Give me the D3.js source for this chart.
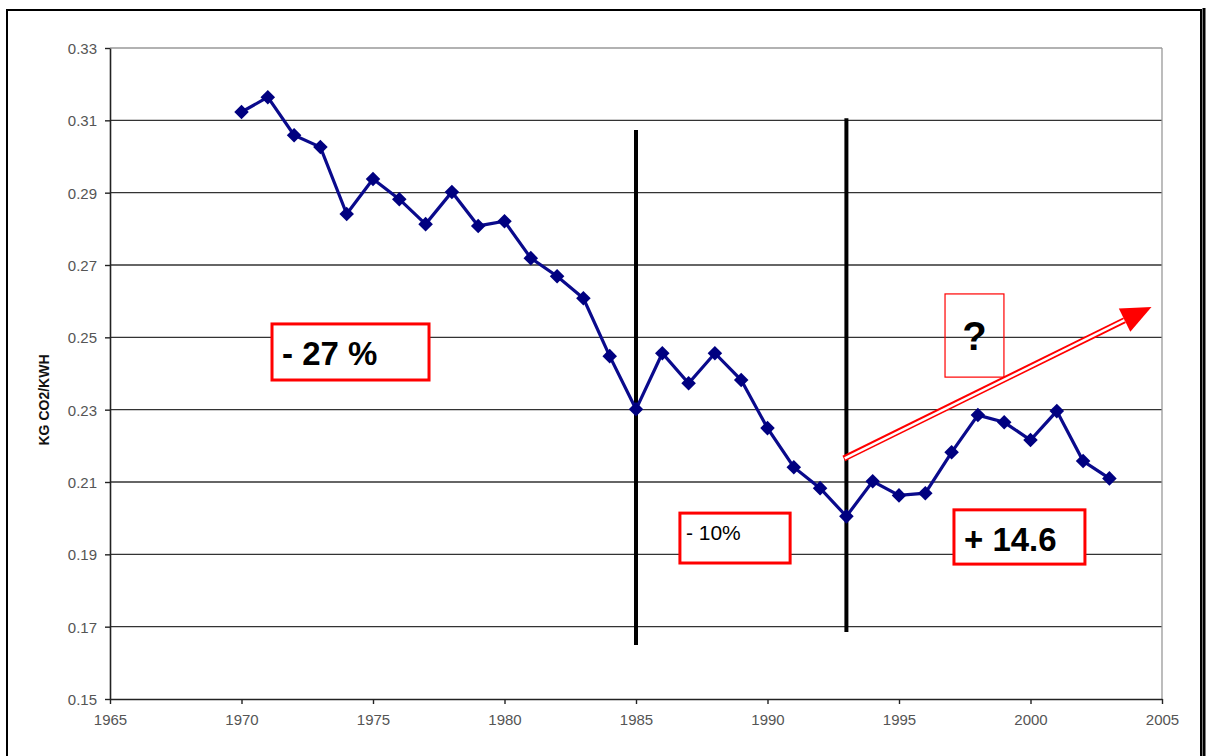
<!DOCTYPE html>
<html>
<head>
<meta charset="utf-8">
<script src="https://cdn.jsdelivr.net/npm/d3@7"></script>
<style>
  body { margin: 0; background: #fff; }
  text { font-family: Arial, "Liberation Sans", sans-serif; }
</style>
</head>
<body>
<div id="chart-area"></div>
<script>
// data
var years = [1970, 1971, 1972, 1973, 1974, 1975, 1976, 1977, 1978, 1979,
             1980, 1981, 1982, 1983, 1984, 1985, 1986, 1987, 1988, 1989,
             1990, 1991, 1992, 1993, 1994, 1995, 1996, 1997, 1998, 1999,
             2000, 2001, 2002, 2003];
var kgPerKwh = [0.3123, 0.3164, 0.3059, 0.3026, 0.2841, 0.2938, 0.2882, 0.2813, 0.2902, 0.2808,
                0.2821, 0.2719, 0.2669, 0.2608, 0.2448, 0.2301, 0.2456, 0.2373, 0.2456, 0.2382,
                0.2249, 0.2141, 0.2083, 0.2005, 0.2102, 0.2063, 0.2069, 0.2182, 0.2285, 0.2265,
                0.2216, 0.2296, 0.2158, 0.2110];
var xTicks = [1965, 1970, 1975, 1980, 1985, 1990, 1995, 2000, 2005];
var yTicks = [0.15, 0.17, 0.19, 0.21, 0.23, 0.25, 0.27, 0.29, 0.31, 0.33];
var breakYears = [1985, 1993];
var breakTop = [0.3073, 0.3106];
var breakBottom = [0.1649, 0.1685];
var labels = [
    { text: "- 27 %", x0: 1971.16, x1: 1977.13, y0: 0.2537, y1: 0.2382 },
    { text: "- 10%",  x0: 1986.67, x1: 1990.86, y0: 0.2014, y1: 0.1876 },
    { text: "+ 14.6", x0: 1997.09, x1: 2002.07, y0: 0.2023, y1: 0.1873 }
];

var W = 1207, H = 756;
var margin = { left: 110, right: 45, top: 48, bottom: 57 };
var width = W - margin.left - margin.right,
    height = H - margin.top - margin.bottom;

var svg = d3.select("#chart-area")
    .append("svg")
    .attr("width", W)
    .attr("height", H);

// outer frame
svg.append("path")
    .attr("d", "M7,760 V10 H1201 V760")
    .attr("fill", "none")
    .attr("stroke", "#000")
    .attr("stroke-width", 2);
svg.append("line")
    .attr("x1", 1204).attr("x2", 1204).attr("y1", 8).attr("y2", 760)
    .attr("stroke", "#000").attr("stroke-width", 3);

var g = svg.append("g")
    .attr("transform", "translate(" + margin.left + "," + margin.top + ")");

// Scales
var x = d3.scaleLinear().domain([1965, 2005]).range([0, width]);
var y = d3.scaleLinear().domain([0.15, 0.33]).range([height, 0]);

// grid lines
g.selectAll(".grid")
    .data(yTicks.slice(1))
    .enter().append("line")
    .attr("class", "grid")
    .attr("x1", 0).attr("x2", width)
    .attr("y1", function(d){ return y(d); })
    .attr("y2", function(d){ return y(d); })
    .attr("stroke", function(d){ return d === 0.33 ? "#999" : "#333"; })
    .attr("stroke-width", 1.3);
g.append("line")
    .attr("x1", width).attr("x2", width)
    .attr("y1", 0).attr("y2", height)
    .attr("stroke", "#999").attr("stroke-width", 1.3);

// X Axis
var xAxisCall = d3.axisBottom(x)
    .tickValues(xTicks)
    .tickSize(5)
    .tickSizeOuter(0)
    .tickFormat(d3.format("d"));
var xAxis = g.append("g")
    .attr("transform", "translate(0," + height + ")")
    .call(xAxisCall);

// Y Axis
var yAxisCall = d3.axisLeft(y)
    .tickValues(yTicks)
    .tickSize(5)
    .tickSizeOuter(0)
    .tickFormat(d3.format(".2f"));
var yAxis = g.append("g").call(yAxisCall);

[xAxis, yAxis].forEach(function(a){
    a.attr("font-size", 15);
    a.select(".domain").attr("stroke", "#222").attr("stroke-width", 1.6);
    a.selectAll(".tick line").attr("stroke", "#222").attr("stroke-width", 1.4);
    a.selectAll("text")
        .attr("font-size", 15)
        .attr("fill", "#555");
});
xAxis.selectAll("text").attr("y", 14).attr("dy", "0.8em");
yAxis.selectAll("text").attr("x", -13).attr("dy", "0.36em");

// axis label
g.append("text")
    .attr("transform", "rotate(-90)")
    .attr("x", -352)
    .attr("y", -61)
    .attr("text-anchor", "middle")
    .attr("font-size", 14)
    .attr("font-weight", "bold")
    .attr("fill", "#111")
    .text("KG CO2/KWH");

// vertical break lines
g.selectAll(".brk")
    .data(breakYears)
    .enter().append("line")
    .attr("class", "brk")
    .attr("x1", function(d){ return x(d); })
    .attr("x2", function(d){ return x(d); })
    .attr("y1", function(d, i){ return y(breakTop[i]); })
    .attr("y2", function(d, i){ return y(breakBottom[i]); })
    .attr("stroke", "#000")
    .attr("stroke-width", 4);

// series line
var line = d3.line()
    .x(function(d, i){ return x(years[i]); })
    .y(function(d){ return y(d); });
g.append("path")
    .datum(kgPerKwh)
    .attr("d", line)
    .attr("fill", "none")
    .attr("stroke", "#0a0a8c")
    .attr("stroke-width", 3.2);

g.selectAll(".pt")
    .data(kgPerKwh)
    .enter().append("path")
    .attr("class", "pt")
    .attr("d", d3.symbol().type(d3.symbolDiamond2).size(135))
    .attr("transform", function(d, i){
        return "translate(" + x(years[i]) + "," + y(d) + ")";
    })
    .attr("fill", "#000080");

// trend arrow (hollow double line)
var a0 = [1992.9, 0.2165], a1 = [2004.6, 0.2584];
var ax0 = x(a0[0]), ay0 = y(a0[1]), ax1 = x(a1[0]), ay1 = y(a1[1]);
var ang = Math.atan2(ay1 - ay0, ax1 - ax0);
var headLen = 30, headW = 13;
var bx = ax1 - headLen * Math.cos(ang), by = ay1 - headLen * Math.sin(ang);
g.append("line")
    .attr("x1", ax0).attr("y1", ay0).attr("x2", bx).attr("y2", by)
    .attr("stroke", "#f00").attr("stroke-width", 6);
g.append("line")
    .attr("x1", ax0 + 1).attr("y1", ay0).attr("x2", bx).attr("y2", by)
    .attr("stroke", "#fff").attr("stroke-width", 2.5);
var px = -Math.sin(ang), py = Math.cos(ang);
g.append("path")
    .attr("d", "M" + ax1 + "," + ay1 +
        "L" + (bx + px * headW) + "," + (by + py * headW) +
        "L" + (bx - px * headW) + "," + (by - py * headW) + "Z")
    .attr("fill", "#f00");

// "?" box, drawn over the arrow
var qx0 = x(1996.75), qx1 = x(1998.99), qy0 = y(0.2620), qy1 = y(0.2390);
g.append("rect")
    .attr("x", qx0).attr("y", qy0)
    .attr("width", qx1 - qx0).attr("height", qy1 - qy0)
    .attr("fill", "none")
    .attr("stroke", "#f00").attr("stroke-width", 1.2);
g.append("text")
    .attr("x", (qx0 + qx1) / 2)
    .attr("y", qy0 + 56)
    .attr("text-anchor", "middle")
    .attr("font-size", 40)
    .attr("font-weight", "bold")
    .attr("fill", "#000")
    .text("?");

// percentage boxes
var box = g.selectAll(".lbl")
    .data(labels)
    .enter().append("g")
    .attr("class", "lbl");
box.append("rect")
    .attr("x", function(d){ return x(d.x0); })
    .attr("y", function(d){ return y(d.y0); })
    .attr("width", function(d){ return x(d.x1) - x(d.x0); })
    .attr("height", function(d){ return y(d.y1) - y(d.y0); })
    .attr("fill", "#fff")
    .attr("stroke", "#f00")
    .attr("stroke-width", 3);
box.append("text")
    .attr("x", function(d){ return x(d.x0) + (d.text === "- 10%" ? 6 : 10); })
    .attr("y", function(d){ return y(d.y0) + (d.text === "- 10%" ? 27 : 41); })
    .attr("font-size", function(d){ return d.text === "- 10%" ? 21 : 33; })
    .attr("fill", "#000")
    .attr("font-weight", function(d){ return d.text === "- 10%" ? "normal" : "bold"; })
    .text(function(d){ return d.text; });
</script>
</body>
</html>
